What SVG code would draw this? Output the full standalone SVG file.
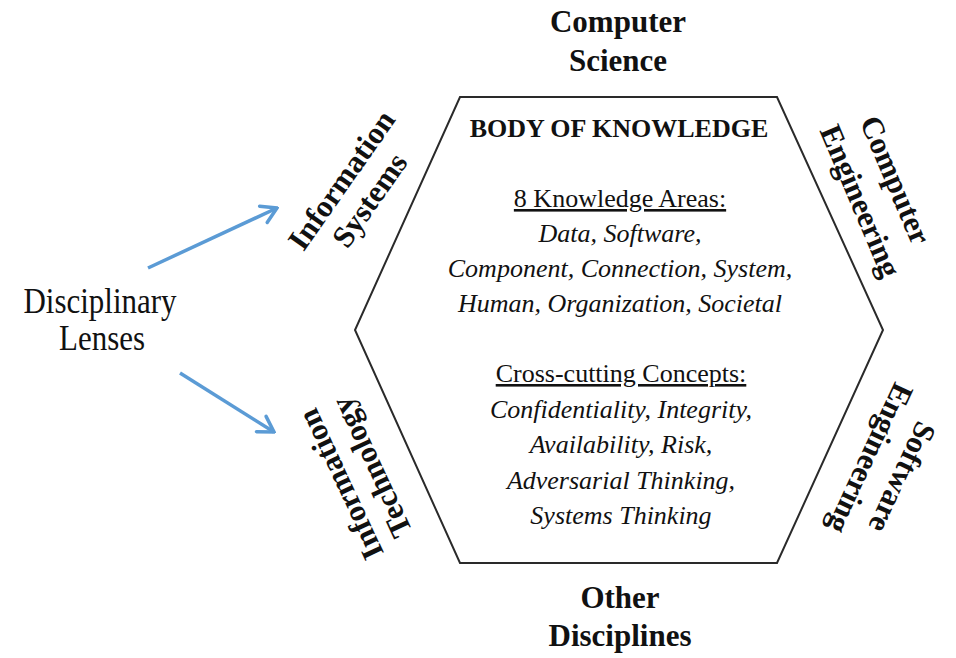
<svg xmlns="http://www.w3.org/2000/svg" width="956" height="658" viewBox="0 0 956 658">
<defs>
<style>
.t{font-family:"Liberation Serif","Times New Roman",serif;fill:#111;text-anchor:middle}
.b{font-weight:bold;font-size:31px}
.h{font-weight:bold;font-size:26px}
.u{font-size:26px;text-decoration:underline}
.i{font-size:26px;font-style:italic}
.r{font-size:31px}
.arrow{stroke:#5b9bd5;stroke-width:3.5;fill:none;marker-end:url(#ah)}
</style>
<marker id="ah" markerUnits="userSpaceOnUse" viewBox="-18 -12 20 24" refX="0" refY="0" markerWidth="20" markerHeight="24" orient="auto">
<path d="M-15,-9 L0,0 L-15,9" fill="none" stroke="#5b9bd5" stroke-width="3.5" stroke-linecap="round" stroke-linejoin="miter"/>
</marker>
</defs>
<rect width="956" height="658" fill="#fff"/>
<g id="body">
<polygon points="460,97 777,97 883,330 777,563 460,563 355,330" fill="none" stroke="#2a2a2a" stroke-width="2"/>
<text class="t h" x="619" y="137">BODY OF KNOWLEDGE</text>
<text class="t u" x="620" y="207">8 Knowledge Areas:</text>
<text class="t i" x="620" y="242">Data, Software,</text>
<text class="t i" x="620" y="277">Component, Connection, System,</text>
<text class="t i" x="620" y="312">Human, Organization, Societal</text>
<text class="t u" x="621" y="382">Cross-cutting Concepts:</text>
<text class="t i" x="621" y="418">Confidentiality, Integrity,</text>
<text class="t i" x="621" y="453">Availability, Risk,</text>
<text class="t i" x="621" y="489">Adversarial Thinking,</text>
<text class="t i" x="621" y="524">Systems Thinking</text>
</g>
<g id="cs">
<text class="t b" x="618" y="32">Computer</text>
<text class="t b" x="618" y="71">Science</text>
</g>
<g id="od">
<text class="t b" x="620" y="608">Other</text>
<text class="t b" x="620" y="646">Disciplines</text>
</g>
<g id="is">
<text class="t b" transform="translate(350,186) rotate(-55)">Information</text>
<text class="t b" transform="translate(378,206) rotate(-55)">Systems</text>
</g>
<g id="it">
<text class="t b" transform="translate(350,480) rotate(-115)">Information</text>
<text class="t b" transform="translate(381,463) rotate(-115)">Technology</text>
</g>
<g id="ce">
<text class="t b" transform="translate(886,184) rotate(67)">Computer</text>
<text class="t b" transform="translate(851,205) rotate(67)">Engineering</text>
</g>
<g id="se">
<text class="t b" transform="translate(893,473) rotate(115)">Software</text>
<text class="t b" transform="translate(861,454) rotate(115)">Engineering</text>
</g>
<g id="lenses">
<text class="t r" transform="translate(100,313) scale(1,1.15)">Disciplinary</text>
<text class="t r" transform="translate(102,350) scale(1,1.15)">Lenses</text>
</g>
<g id="connectors">
<line class="arrow" x1="148" y1="268" x2="277" y2="208"/>
<line class="arrow" x1="180" y1="373" x2="274" y2="432"/>
</g>
</svg>
